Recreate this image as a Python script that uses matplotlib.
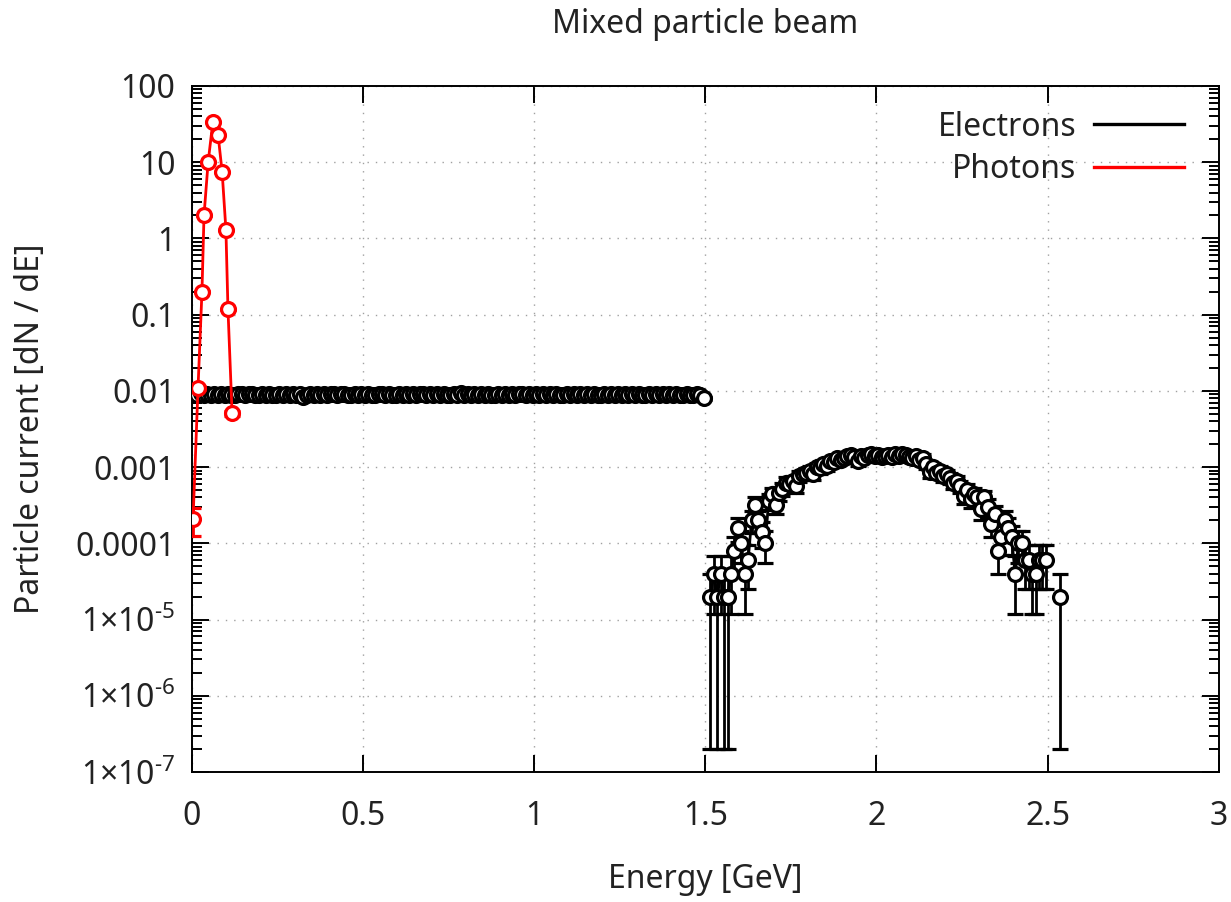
import numpy as np
import matplotlib
matplotlib.use("Agg")
import matplotlib.pyplot as plt
from matplotlib.ticker import FixedLocator, FixedFormatter, LogLocator, NullFormatter
from matplotlib.lines import Line2D

plt.rcParams['font.family'] = ['Noto Sans', 'DejaVu Sans']
plt.rcParams['mathtext.fontset'] = 'custom'
plt.rcParams['mathtext.rm'] = 'Noto Sans'
plt.rcParams['mathtext.it'] = 'Noto Sans:italic'

# ---------------- data ----------------
# electron histogram: counts per 0.01 GeV bin, scaled by 2e-5 per count
count_scale = 2e-5
elec_flat_x = np.arange(0.005, 1.5, 0.01)
elec_flat_counts = [
    455, 448, 462, 440, 452, 445, 458, 437, 450, 444,
    460, 447, 439, 456, 449, 443, 452, 461, 438, 446,
    451, 442, 457, 448, 435, 453, 446, 459, 441, 450,
    444, 455, 420, 447, 452, 439, 458, 445, 450, 436,
    457, 449, 443, 452, 461, 440, 448, 455, 446, 451,
    438, 456, 447, 442, 453, 459, 444, 450, 437, 448,
    455, 441, 452, 446, 460, 443, 449, 454, 439, 457,
    445, 451, 440, 458, 447, 436, 453, 448, 462, 444,
    450, 442, 456, 439, 452, 447, 459, 441, 448, 454,
    443, 457, 446, 451, 438, 455, 449, 444, 460, 447,
    452, 440, 458, 445, 450, 437, 454, 448, 443, 456,
    447, 453, 441, 459, 446, 450, 439, 455, 448, 442,
    457, 444, 451, 438, 453, 447, 460, 443, 449, 445,
    454, 440, 448, 456, 442, 451, 446, 458, 437, 450,
    444, 452, 447, 439, 455, 446, 441, 450, 436, 400,
]
elec_hi_x = np.arange(1.505, 2.54, 0.01)
elec_hi_counts = [
    0, 1, 2, 1, 2, 1, 1, 2, 4, 8,
    5, 2, 3, 10, 16, 10, 7, 5, 18, 22,
    16, 23, 26, 31, 30, 33, 28, 38, 40, 42,
    45, 40, 50, 48, 55, 52, 60, 58, 65, 62,
    66, 70, 72, 68, 60, 70, 66, 72, 74, 70,
    73, 68, 70, 72, 67, 74, 70, 75, 72, 68,
    66, 70, 62, 66, 55, 43, 50, 42, 45, 38,
    40, 36, 31, 33, 28, 21, 25, 19, 22, 20,
    14, 20, 15, 9, 12, 4, 6, 10, 8, 6,
    2, 5, 5, 3, 3, 2, 2, 3, 3, 3,
    0, 0, 0, 1,
]

phot_x = [0.003, 0.0175, 0.029, 0.035, 0.047, 0.061, 0.076, 0.088, 0.099, 0.105, 0.117]
phot_y = [2.1e-4, 0.011, 0.2, 2.0, 10.0, 34.0, 23.0, 7.4, 1.3, 0.118, 0.0051]
phot_err = [8.5e-5, 6e-4, 2.5e-3, 8e-3, 1.8e-2, 3.3e-2, 2.7e-2, 1.5e-2, 6.5e-3, 1.9e-3, 4e-4]

xticks = [0, 0.5, 1, 1.5, 2, 2.5, 3]
xtick_labels = ['0', '0.5', '1', '1.5', '2', '2.5', '3']
yticks = [1e-7, 1e-6, 1e-5, 1e-4, 1e-3, 1e-2, 1e-1, 1, 10, 100]
ytick_labels = ['1×10$^{\\text{-7}}$', '1×10$^{\\text{-6}}$', '1×10$^{\\text{-5}}$',
                '0.0001', '0.001', '0.01', '0.1', '1', '10', '100']

# ---------------- build electron arrays ----------------
ex = np.concatenate([elec_flat_x, elec_hi_x[:len(elec_hi_counts)]])
ec = np.array(list(elec_flat_counts) + list(elec_hi_counts), dtype=float)
ey = np.where(ec > 0, ec * count_scale, np.nan)
eerr = np.sqrt(ec) * count_scale
elow = np.minimum(eerr, ey - 2e-7)
ehigh = eerr

# ---------------- figure ----------------
FS = 23
fig = plt.figure(figsize=(12.31, 9.02), dpi=100)
ax = fig.add_axes([0.156, 0.1441, 0.834, 0.7606])

lw = 2.0
ax.errorbar(ex, ey, yerr=[elow, ehigh], color='black', lw=lw, marker='o',
            ms=10, mfc='white', mec='black', mew=2.3, capsize=5.5, capthick=lw,
            elinewidth=lw, zorder=3)
ax.errorbar(phot_x, phot_y, yerr=[np.minimum(phot_err, np.array(phot_y) * 0.99), phot_err],
            color='#ff0000', lw=lw, marker='o', ms=10, mfc='white', mec='#ff0000',
            mew=2.3, capsize=5.5, capthick=lw, elinewidth=lw, zorder=4)

ax.set_yscale('log')
ax.set_xlim(0, 3)
ax.set_ylim(1e-7, 100)

ax.xaxis.set_major_locator(FixedLocator(xticks))
ax.xaxis.set_major_formatter(FixedFormatter(xtick_labels))
ax.yaxis.set_major_locator(FixedLocator(yticks))
ax.yaxis.set_major_formatter(FixedFormatter(ytick_labels))
ax.yaxis.set_minor_locator(LogLocator(base=10, subs=np.arange(2, 10), numticks=20))
ax.yaxis.set_minor_formatter(NullFormatter())

ax.tick_params(which='both', direction='in', top=True, right=True, labelsize=FS,
               colors='black', width=1.4, labelcolor='#222222')
ax.tick_params(which='major', length=12)
ax.tick_params(which='minor', length=7)
ax.tick_params(axis='x', which='major', pad=20)
ax.tick_params(axis='y', which='major', pad=12)

ax.grid(True, which='major', color='#a0a0a0', linestyle=(0, (1, 5)), lw=1.0)
for s in ax.spines.values():
    s.set_linewidth(1.4)

ax.set_title('Mixed particle beam', fontsize=FS, pad=38, color='#222222')
ax.set_xlabel('Energy [GeV]', fontsize=FS, labelpad=22, color='#222222')
ax.set_ylabel('Particle current [dN / dE]', fontsize=FS, labelpad=20, color='#222222')

handles = [Line2D([], [], color='black', lw=2.4), Line2D([], [], color='#ff0000', lw=2.4)]
leg = ax.legend(handles, ['Electrons', 'Photons'], loc='upper right',
                bbox_to_anchor=(0.966, 0.964), frameon=False, markerfirst=False,
                fontsize=FS, handlelength=2.8, handletextpad=0.56, labelspacing=0.3,
                borderpad=0, borderaxespad=0)
for t in leg.get_texts():
    t.set_color('#222222')

fig.savefig('out.png', dpi=100)
